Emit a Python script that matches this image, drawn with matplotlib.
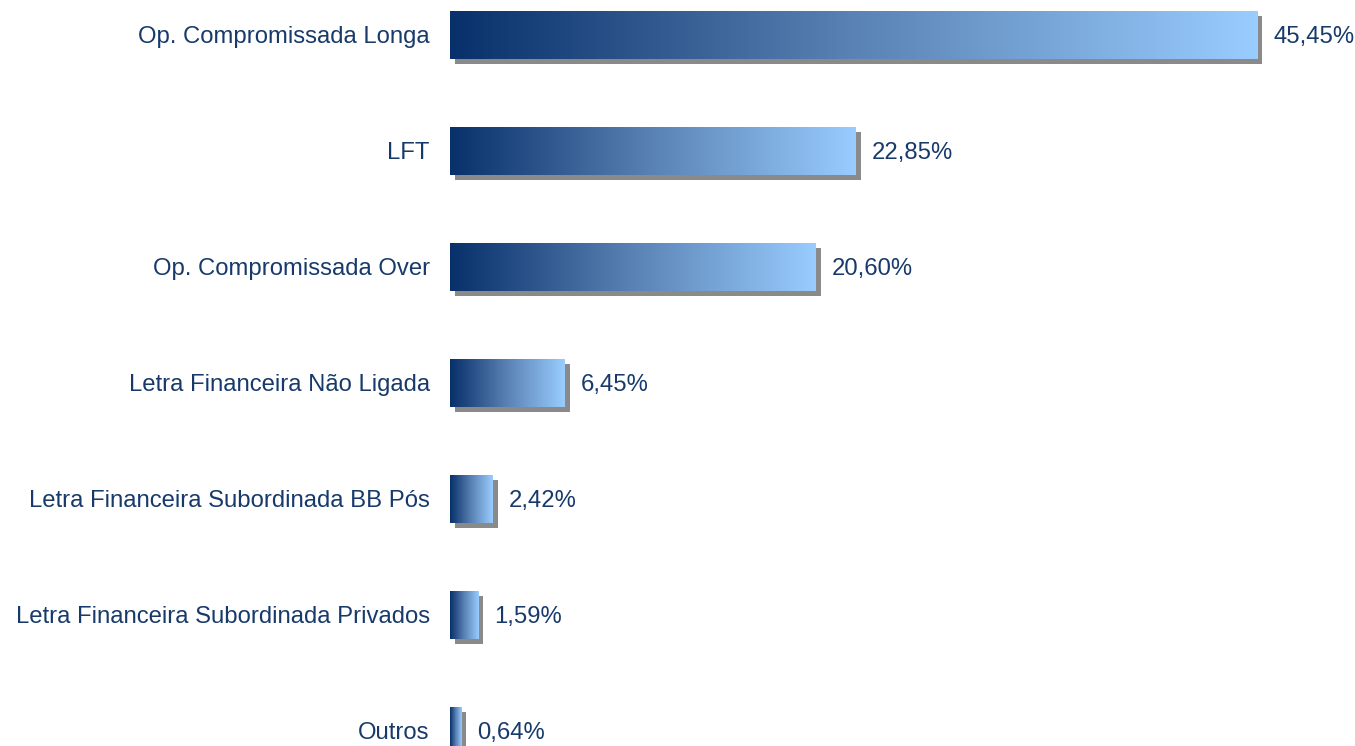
import numpy as np
import matplotlib.pyplot as plt
from matplotlib.colors import LinearSegmentedColormap
from matplotlib.transforms import ScaledTranslation

categories = [
    "Op. Compromissada Longa",
    "LFT",
    "Op. Compromissada Over",
    "Letra Financeira Não Ligada",
    "Letra Financeira Subordinada BB Pós",
    "Letra Financeira Subordinada Privados",
    "Outros",
]
values = [45.45, 22.85, 20.60, 6.45, 2.42, 1.59, 0.64]
value_labels = ["45,45%", "22,85%", "20,60%", "6,45%", "2,42%", "1,59%", "0,64%"]

TEXT = "#173a6b"
cmap = LinearSegmentedColormap.from_list("bb", ["#08306a", "#5a82b4", "#99ccff"])

plt.rcParams["font.family"] = ["Liberation Sans", "DejaVu Sans"]

fig = plt.figure(figsize=(13.55, 7.46), dpi=100)
ax = fig.add_axes([450 / 1355, 0, 905 / 1355, 1])
ax.axis("off")

y = np.arange(len(values))
h = 0.414

# shadow, shifted a few pixels right and down
shadow_tr = ax.transData + ScaledTranslation(5 / 100, -5 / 100, fig.dpi_scale_trans)
ax.barh(y, values, height=h, color="#8a8a8a", transform=shadow_tr, zorder=1)

grad = np.linspace(0, 1, 256).reshape(1, -1)
bars = ax.barh(y, values, height=h, color="none", zorder=3)
for b, v, yi in zip(bars, values, y):
    im = ax.imshow(grad, cmap=cmap, aspect="auto", zorder=2,
                   extent=[0, v, yi + h / 2, yi - h / 2])
    im.set_clip_path(b)

for yi, v, lab in zip(y, values, value_labels):
    ax.annotate(lab, (v, yi), xytext=(11.5, -1.5), textcoords="offset points",
                ha="left", va="center", fontsize=17.2, color=TEXT)
for yi, cat in zip(y, categories):
    ax.annotate(cat, (0, yi), xytext=(-14.5, -1.5), textcoords="offset points",
                ha="right", va="center", fontsize=17.2, color=TEXT,
                annotation_clip=False)

ax.set_xlim(0, 905 / 17.76)
ax.set_ylim((746 - 35) / 116, -35 / 116)
fig.savefig("out.png", dpi=100)
